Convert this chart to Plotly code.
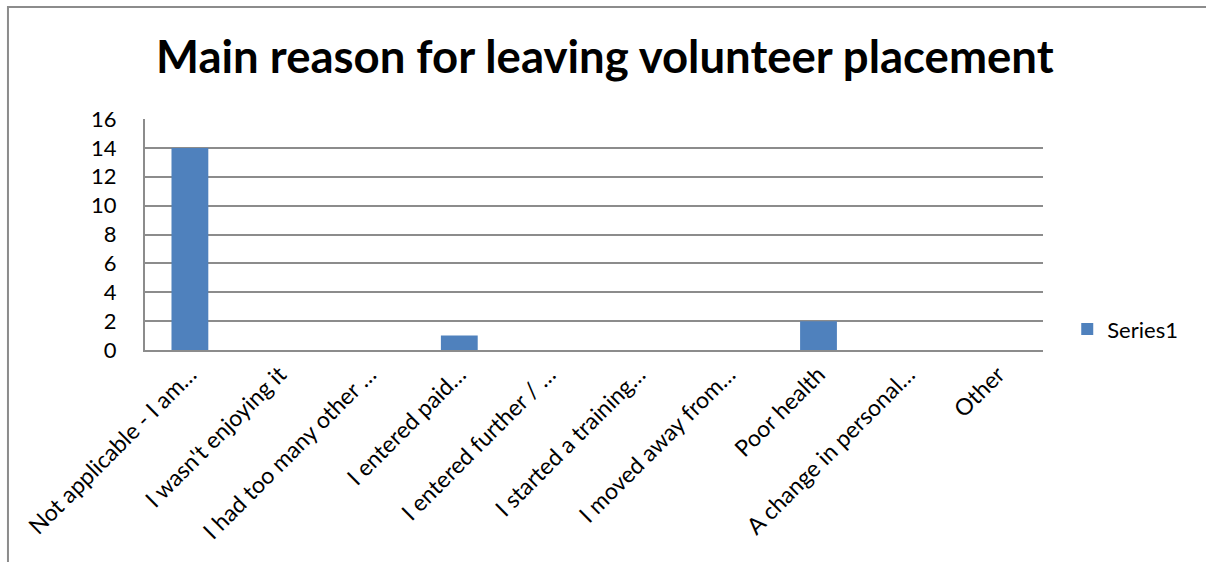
import plotly.graph_objects as go

# Survey responses: main reason for leaving a volunteer placement
categories = [
    "Not applicable - I am…",
    "I wasn't enjoying it",
    "I had too many other …",
    "I entered paid…",
    "I entered further / …",
    "I started a training…",
    "I moved away from…",
    "Poor health",
    "A change in personal…",
    "Other",
]
counts = [14, 0, 0, 1, 0, 0, 0, 2, 0, 0]
y_ticks = [0, 2, 4, 6, 8, 10, 12, 14, 16]

FONT = "Lato, Calibri, 'Open Sans', sans-serif"
GRID = "#8c8c8c"

fig = go.Figure(
    go.Bar(
        x=categories,
        y=counts,
        name="Series1",
        marker=dict(color="#4F81BD", line=dict(width=0)),
    )
)

fig.update_layout(
    width=1206,
    height=562,
    margin=dict(l=145, r=163, t=119, b=212),
    paper_bgcolor="white",
    plot_bgcolor="white",
    bargap=0.59,
    font=dict(family=FONT, size=22, color="black"),
    title=dict(
        text="<b>Main reason for leaving volunteer placement</b>",
        font=dict(family=FONT, size=45.5, color="black"),
        x=0.5015,
        xanchor="center",
        y=0.898,
        yanchor="middle",
    ),
    showlegend=True,
    legend=dict(
        x=1.027,
        y=0.09,
        xanchor="left",
        yanchor="middle",
        font=dict(family=FONT, size=22),
        itemwidth=30,
        bgcolor="rgba(0,0,0,0)",
    ),
    xaxis=dict(
        tickangle=-45,
        showgrid=False,
        showline=True,
        linecolor=GRID,
        linewidth=2,
        ticks="",
        tickfont=dict(family=FONT, size=23),
    ),
    yaxis=dict(
        range=[0, 16],
        tickvals=y_ticks,
        showgrid=True,
        gridcolor=GRID,
        gridwidth=2,
        showline=True,
        linecolor=GRID,
        linewidth=2,
        ticks="",
        ticklen=0,
        ticklabelstandoff=22,
        tickfont=dict(family=FONT, size=22),
        zeroline=False,
    ),
    shapes=[
        # outer chart frame (top and left edges fall inside the page)
        dict(
            type="rect",
            xref="paper",
            yref="paper",
            x0=-0.1526,
            x1=1.20,
            y0=-1.0,
            y1=1.4848,
            line=dict(color="#8c8c8c", width=2),
            fillcolor="rgba(0,0,0,0)",
            layer="below",
        )
    ],
)

fig.write_html("out.html")
